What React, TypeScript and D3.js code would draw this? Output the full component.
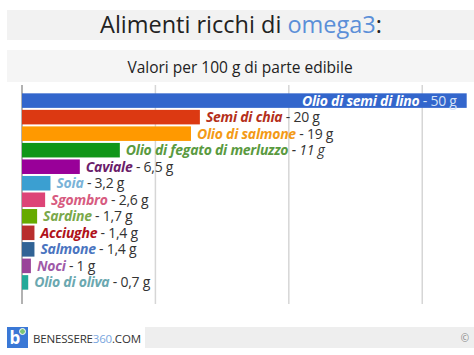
import * as d3 from 'd3'

const foods = [
  'Olio di semi di lino', 'Semi di chia', 'Olio di salmone', 'Olio di fegato di merluzzo',
  'Caviale', 'Soia', 'Sgombro', 'Sardine', 'Acciughe', 'Salmone', 'Noci', 'Olio di oliva',
]
const values = [50, 20, 19, 11, 6.5, 3.2, 2.6, 1.7, 1.4, 1.4, 1, 0.7]
const barColors = [
  '#3366cc', '#dc3912', '#ff9900', '#109618', '#990099', '#3b9fd1',
  '#dd4477', '#66aa00', '#b82e2e', '#316395', '#994499', '#22aa99',
]
const labelColors = [
  '#ffffff', '#b5301a', '#f39a16', '#5a9a40', '#6b1d6b', '#7ab3d8',
  '#d75b80', '#7aa84a', '#b0121a', '#4a74c0', '#a05aa8', '#6ba8b0',
]
const gridTicks = [0, 15, 30, 45]

const W = 474
const H = 355
const FONT = '"Open Sans", sans-serif'

const it = d3.formatLocale({ decimal: ',', thousands: '.', grouping: [3], currency: ['€', ''] })
const fmt = it.format('~g')

export default function App() {
  const x = d3.scaleLinear().domain([0, 50]).range([22, 466.7])
  const y = d3.scaleBand<string>().domain(foods).range([93, 290]).paddingInner(0.12).paddingOuter(0.02)

  return (
    <svg width={W} height={H} style={{ position: 'absolute', left: 0, top: 0, background: '#fff' }}
      fontFamily={FONT}>
      {/* title */}
      <rect x={7} y={10} width={W - 7} height={30} fill="#f2f2f2" />
      <text x={241} y={33} textAnchor="middle" fontSize={23.5} fill="#222">
        Alimenti ricchi di <tspan fill="#5b8fd8">omega3</tspan>:
      </text>
      <rect x={7} y={50} width={W - 7} height={32} fill="#f5f5f5" />
      <text x={240} y={73} textAnchor="middle" fontSize={15.5} fill="#222">
        Valori per 100 g di parte edibile
      </text>

      {/* grid */}
      {gridTicks.map(t => (
        <line key={t} x1={x(t)} x2={x(t)} y1={85} y2={304}
          stroke={t === 0 ? '#999' : '#d6d6d6'} strokeWidth={1.5} />
      ))}

      {/* bars */}
      {foods.map((f, i) => {
        const by = y(f)!
        const bh = y.bandwidth()
        const cy = by + bh / 2 + 5
        const inside = i === 0
        return (
          <g key={f}>
            <rect x={x(0)} y={by} width={x(values[i]) - x(0)} height={bh} fill={barColors[i]} />
            {inside ? (
              <text x={x(values[i]) - 10} y={cy} textAnchor="end" fontSize={14} letterSpacing={-0.25}>
                <tspan fill="#fff" fontWeight="bold" fontStyle="italic">{f}</tspan>
                <tspan fill="#d6e2f7"> - {fmt(values[i])} g</tspan>
              </text>
            ) : (
              <text x={x(values[i]) + 6} y={cy} fontSize={14} letterSpacing={-0.25}>
                <tspan fill={labelColors[i]} fontWeight="bold" fontStyle="italic">{f}</tspan>
                <tspan fill="#333" fontStyle={i === 3 ? 'italic' : 'normal'}> - {fmt(values[i])} g</tspan>
              </text>
            )}
          </g>
        )
      })}

      {/* footer */}
      <rect x={7} y={327} width={W - 7} height={21} fill="#eeeeee" />
      <rect x={28} y={327} width={117} height={21} fill="#fff" />
      <rect x={7} y={327} width={21} height={21} fill="#3a78d6" />
      <text x={15} y={344} textAnchor="middle" fontSize={17} fontWeight="bold" fill="#fff">b</text>
      <circle cx={22.5} cy={331.5} r={3} fill="#7cc576" stroke="#fff" strokeWidth={1} />
      <text x={33} y={342.5} fontSize={11.5} fill="#333" textLength={108}>
        BENESSERE<tspan fill="#7aa6de">360</tspan>.COM
      </text>
      <text x={465} y={342} textAnchor="middle" fontSize={10} fill="#888">©</text>
    </svg>
  )
}
